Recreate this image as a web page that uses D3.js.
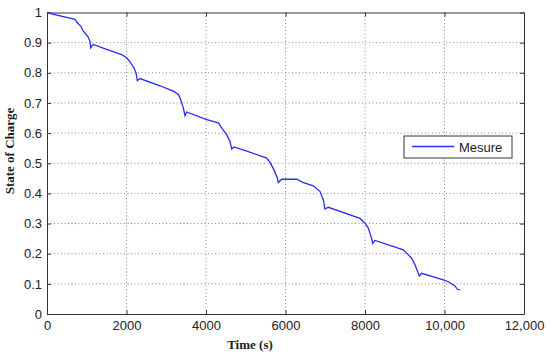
<!DOCTYPE html>
<html>
<head>
<meta charset="utf-8">
<script src="https://cdn.jsdelivr.net/npm/d3@7"></script>
<style>
body { margin: 0; background: #fff; }
</style>
</head>
<body>
<svg id="chart" width="550" height="357"></svg>
<script>
var timeVals = [0, 300, 704, 762, 848, 913, 1024, 1082, 1099, 1165, 1500, 1879, 2005, 2088, 2189, 2239, 2272, 2340,
    2843, 3178, 3305, 3364, 3430, 3472, 3514, 4017, 4310, 4394, 4520, 4604, 4646, 4704,
    5100, 5527, 5610, 5711, 5794, 5819, 5904, 6281, 6449, 6700, 6868, 6951, 6993, 7077,
    7874, 8000, 8083, 8168, 8193, 8251, 8964, 9090, 9174, 9258, 9367, 9426, 9970, 10096, 10264, 10322, 10390];
var socVals = [1.0, 0.99, 0.977, 0.966, 0.955, 0.938, 0.921, 0.905, 0.883, 0.894, 0.878, 0.860, 0.850, 0.836, 0.816, 0.800, 0.774, 0.781,
    0.757, 0.739, 0.728, 0.711, 0.683, 0.658, 0.670, 0.645, 0.634, 0.617, 0.595, 0.572, 0.547, 0.554,
    0.537, 0.517, 0.503, 0.478, 0.451, 0.436, 0.447, 0.447, 0.436, 0.425, 0.406, 0.379, 0.348, 0.354,
    0.317, 0.301, 0.285, 0.250, 0.234, 0.244, 0.213, 0.196, 0.185, 0.163, 0.126, 0.135, 0.113, 0.107, 0.093, 0.082, 0.080];
var xTicks = [0, 2000, 4000, 6000, 8000, 10000, 12000];
var yTicks = [0, 0.1, 0.2, 0.3, 0.4, 0.5, 0.6, 0.7, 0.8, 0.9, 1];
var seriesName = "Mesure";

var mLeft = 47, mRight = 524, mTop = 12.5, mBottom = 314;
var svg = d3.select("#chart");

var x = d3.scaleLinear().domain([0, 12000]).range([mLeft, mRight]);
var y = d3.scaleLinear().domain([0, 1]).range([mBottom, mTop]);

var fmtX = function(d){ return d >= 10000 ? d3.format(",")(d) : d; };
var fmtY = function(d){ return d; };

// grid
var grid = svg.append("g");
grid.selectAll("line.gx")
    .data(xTicks.slice(1, -1))
    .enter().append("line")
    .attr("x1", function(d){ return x(d); })
    .attr("x2", function(d){ return x(d); })
    .attr("y1", mTop).attr("y2", mBottom)
    .attr("stroke", "#888").attr("stroke-dasharray", "1,2.5");
grid.selectAll("line.gy")
    .data(yTicks.slice(1, -1))
    .enter().append("line")
    .attr("y1", function(d){ return y(d); })
    .attr("y2", function(d){ return y(d); })
    .attr("x1", mLeft).attr("x2", mRight)
    .attr("stroke", "#888").attr("stroke-dasharray", "1,2.5");

// axes, ticks inward on all four sides
var axisB = svg.append("g").attr("transform", "translate(0," + mBottom + ")")
    .call(d3.axisBottom(x).tickValues(xTicks).tickFormat(fmtX).tickSizeInner(-4).tickSizeOuter(0).tickPadding(7));
var axisL = svg.append("g").attr("transform", "translate(" + mLeft + ",0)")
    .call(d3.axisLeft(y).tickValues(yTicks).tickFormat(fmtY).tickSizeInner(-4).tickSizeOuter(0).tickPadding(5));
var axisT = svg.append("g").attr("transform", "translate(0," + mTop + ")")
    .call(d3.axisTop(x).tickValues(xTicks).tickFormat("").tickSizeInner(-4).tickSizeOuter(0));
var axisR = svg.append("g").attr("transform", "translate(" + mRight + ",0)")
    .call(d3.axisRight(y).tickValues(yTicks).tickFormat("").tickSizeInner(-4).tickSizeOuter(0));

[axisB, axisL, axisT, axisR].forEach(function(a){
    a.select(".domain").attr("stroke", "#333");
    a.selectAll(".tick line").attr("stroke", "#333");
    a.selectAll("text")
        .attr("font-family", "Liberation Sans, Arial, sans-serif")
        .attr("font-size", "13px")
        .attr("fill", "#222");
});

// curve
var data = timeVals.map(function(t, i){ return {t: t, s: socVals[i]}; });
var line = d3.line()
    .x(function(d){ return x(d.t); })
    .y(function(d){ return y(d.s); });
svg.append("path")
    .datum(data)
    .attr("d", line)
    .attr("fill", "none")
    .attr("stroke", "#2a2aff")
    .attr("stroke-width", 1.3);

// legend
var lg = svg.append("g");
lg.append("rect")
    .attr("x", 404).attr("y", 136).attr("width", 108).attr("height", 22)
    .attr("fill", "#fff").attr("stroke", "#333");
lg.append("line")
    .attr("x1", 412).attr("x2", 454).attr("y1", 146.5).attr("y2", 146.5)
    .attr("stroke", "#2a2aff").attr("stroke-width", 1.3);
lg.append("text")
    .attr("x", 459).attr("y", 151.5)
    .attr("font-family", "Liberation Sans, Arial, sans-serif")
    .attr("font-size", "13px")
    .attr("fill", "#222")
    .text(seriesName);

// axis titles (sit a bit off centre in the original)
svg.append("text")
    .attr("x", 250).attr("y", 349)
    .attr("text-anchor", "middle")
    .attr("font-family", "Liberation Serif, Times New Roman, serif")
    .attr("font-weight", "bold")
    .attr("font-size", "13px")
    .attr("fill", "#222")
    .text("Time (s)");
svg.append("text")
    .attr("transform", "translate(14,151) rotate(-90)")
    .attr("text-anchor", "middle")
    .attr("font-family", "Liberation Serif, Times New Roman, serif")
    .attr("font-weight", "bold")
    .attr("font-size", "13px")
    .attr("fill", "#222")
    .text("State of Charge");
</script>
</body>
</html>
